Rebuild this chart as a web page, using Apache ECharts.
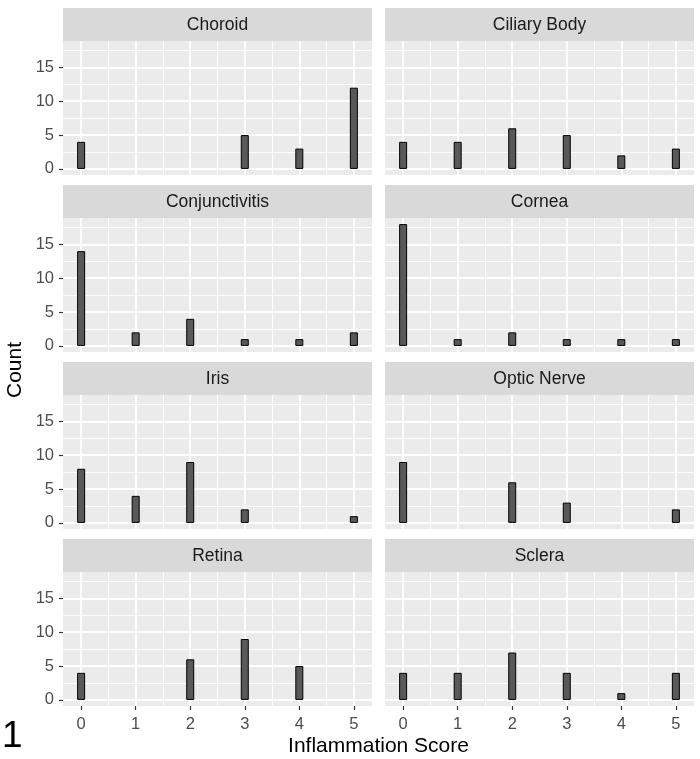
<!DOCTYPE html>
<html>
<head>
<meta charset="utf-8">
<script src="https://cdn.jsdelivr.net/npm/echarts@6/dist/echarts.min.js"></script>
<style>html,body{margin:0;padding:0;background:#fff;}#chart{width:700px;height:759px;}</style>
</head>
<body>
<div id="chart"></div>
<script>
// ---- data ----
const scores = [0, 1, 2, 3, 4, 5];
const panelNames = ['Choroid', 'Ciliary Body', 'Conjunctivitis', 'Cornea', 'Iris', 'Optic Nerve', 'Retina', 'Sclera'];
const choroid        = [4, null, null, 5, 3, 12];
const ciliaryBody    = [4, 4, 6, 5, 2, 3];
const conjunctivitis = [14, 2, 4, 1, 1, 2];
const cornea         = [18, 1, 2, 1, 1, 1];
const iris           = [8, 4, 9, 2, null, 1];
const opticNerve     = [9, null, 6, 3, null, 2];
const retina         = [4, null, 6, 9, 5, null];
const sclera         = [4, 4, 7, 4, 1, 4];
const yTickValues = [0, 5, 10, 15];
const yMinorGrid = [2.5, 7.5, 12.5, 17.5];
const xMinorGrid = [0.5, 1.5, 2.5, 3.5, 4.5];
const xLabel = 'Inflammation Score';
const yLabel = 'Count';
const figureTag = '1';

const panelCounts = [choroid, ciliaryBody, conjunctivitis, cornea, iris, opticNerve, retina, sclera];

// ---- layout ----
const FONT = "'Liberation Sans', Arial, sans-serif";
const colLeft = [63, 385];
const panelW = 309;
const stripH = 33;
const rowStep = 177;
const firstStripTop = 8;
const panelH = 134;

const chart = echarts.init(document.getElementById('chart'), null, {renderer: 'canvas'});

const grids = [], xAxes = [], yAxes = [], series = [], graphics = [];
const hiddenLine = {show: false, onZero: false};

panelNames.forEach((name, i) => {
  const col = i % 2, row = Math.floor(i / 2);
  const stripTop = firstStripTop + row * rowStep;
  const top = stripTop + stripH;
  const isLeft = col === 0, isBottom = row === 3;
  grids.push({
    left: colLeft[col], top: top, width: panelW, height: panelH,
    show: true, backgroundColor: '#EBEBEB', borderWidth: 0, containLabel: false
  });
  xAxes.push({
    type: 'value', gridIndex: i, min: -0.3325, max: 5.3325, position: 'bottom',
    axisLine: hiddenLine,
    splitLine: {show: false},
    axisTick: {show: isBottom, inside: false, customValues: scores, length: 4, lineStyle: {color: '#333333', width: 1.2}},
    axisLabel: {show: isBottom, customValues: scores, margin: 10, color: '#4D4D4D', fontSize: 16.5, fontFamily: FONT}
  });
  yAxes.push({
    type: 'value', gridIndex: i, min: -0.9, max: 18.9, position: 'left',
    axisLine: hiddenLine,
    splitLine: {show: false},
    axisTick: {show: isLeft, inside: false, customValues: yTickValues, length: 4, lineStyle: {color: '#333333', width: 1.2}},
    axisLabel: {show: isLeft, customValues: yTickValues, margin: 9, color: '#4D4D4D', fontSize: 16.5, fontFamily: FONT}
  });
  // grid lines (through the axes' scales)
  const majorLine = {color: '#FFFFFF', width: 1.8, type: 'solid'};
  const minorLine = {color: '#FFFFFF', width: 0.9, type: 'solid'};
  const mlData = [];
  xMinorGrid.forEach(v => mlData.push({xAxis: v, lineStyle: minorLine}));
  yMinorGrid.forEach(v => mlData.push({yAxis: v, lineStyle: minorLine}));
  scores.forEach(v => mlData.push({xAxis: v, lineStyle: majorLine}));
  yTickValues.forEach(v => mlData.push({yAxis: v, lineStyle: majorLine}));
  series.push({
    type: 'line', xAxisIndex: i, yAxisIndex: i, data: [], z: 1, silent: true,
    markLine: {silent: true, z: 1, symbol: ['none', 'none'], label: {show: false}, animation: false, data: mlData}
  });
  const counts = panelCounts[i];
  const data = [];
  scores.forEach((s, k) => { if (counts[k] != null) data.push([s, counts[k]]); });
  series.push({
    type: 'bar', name: name, xAxisIndex: i, yAxisIndex: i, data: data, z: 3,
    barWidth: 8,
    itemStyle: {color: '#595959', borderColor: '#000000', borderWidth: 1}
  });
  // facet strip
  graphics.push({
    type: 'rect', left: colLeft[col], top: stripTop, z: 0,
    shape: {width: panelW, height: stripH}, style: {fill: '#D9D9D9'}
  });
  graphics.push({
    type: 'text', x: colLeft[col] + panelW / 2, y: stripTop + stripH / 2 + 1, z: 1,
    style: {text: name, fill: '#1A1A1A', font: '17.5px ' + FONT, align: 'center', verticalAlign: 'middle'}
  });
});

graphics.push({
  type: 'text', x: 378.5, y: 746, style: {text: xLabel, fill: '#000', font: '21px ' + FONT, align: 'center', verticalAlign: 'middle'}
});
graphics.push({
  type: 'text', x: 15, y: 370, rotation: Math.PI / 2,
  style: {text: yLabel, fill: '#000', font: '21px ' + FONT, align: 'center', verticalAlign: 'middle'}
});
graphics.push({
  type: 'text', x: 2, y: 737, style: {text: figureTag, fill: '#000', font: '37px ' + FONT, align: 'left', verticalAlign: 'middle'}
});

chart.setOption({
  animation: false,
  backgroundColor: '#FFFFFF',
  grid: grids, xAxis: xAxes, yAxis: yAxes, series: series,
  graphic: graphics
});
</script>
</body>
</html>
